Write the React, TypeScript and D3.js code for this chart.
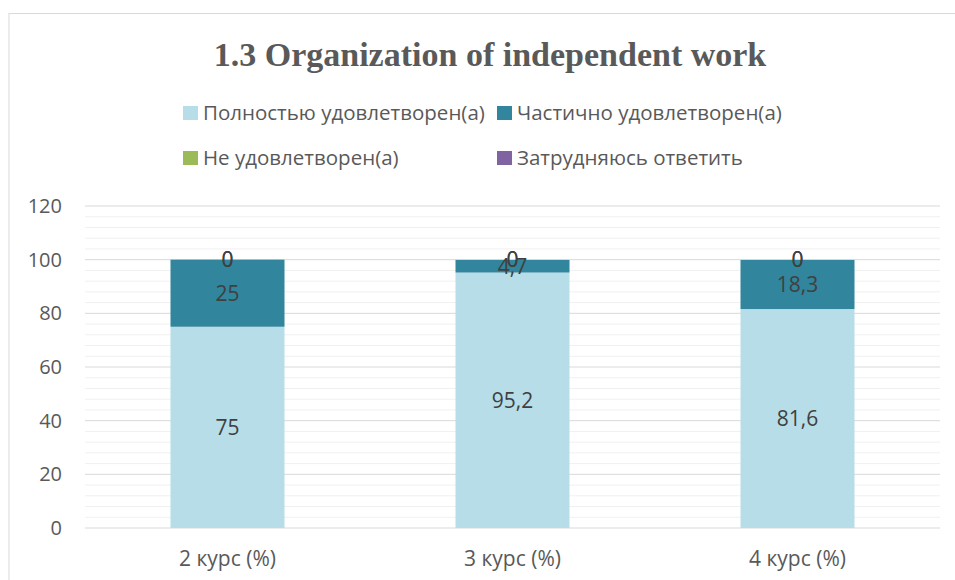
import { useMemo } from "react";
import * as d3 from "d3";

const WIDTH = 955;
const HEIGHT = 580;
const MARGIN = { top: 206, right: 15, bottom: 52, left: 85 };

const categories = ["2 курс (%)", "3 курс (%)", "4 курс (%)"];
const seriesNames = [
  "Полностью удовлетворен(а)",
  "Частично удовлетворен(а)",
  "Не удовлетворен(а)",
  "Затрудняюсь ответить",
];
const fully = [75, 95.2, 81.6];
const partly = [25, 4.7, 18.3];
const notSatisfied = [0, 0, 0];
const hardToSay = [0, 0, 0];
const yTicks = [0, 20, 40, 60, 80, 100, 120];

const seriesValues = [fully, partly, notSatisfied, hardToSay];
const COLORS = ["#B7DDE8", "#31859C", "#9BBB59", "#8064A2"];
const FONT = "'Open Sans', sans-serif";

const fmt = (v: number) => String(v).replace(".", ",");

const App = () => {
  const boundsWidth = WIDTH - MARGIN.left - MARGIN.right;
  const boundsHeight = HEIGHT - MARGIN.top - MARGIN.bottom;

  const rows = categories.map((c, i) => ({
    cat: c,
    s0: fully[i],
    s1: partly[i],
    s2: notSatisfied[i],
    s3: hardToSay[i],
  }));

  const stacked = useMemo(
    () => d3.stack<any>().keys(["s0", "s1", "s2", "s3"])(rows),
    []
  );

  const xScale = d3
    .scaleBand()
    .domain(categories)
    .range([0, boundsWidth])
    .paddingInner(0.6)
    .paddingOuter(0.3);

  const yScale = d3.scaleLinear().domain([0, 120]).range([boundsHeight, 0]);
  const minorTicks = d3.range(0, 121, 4).filter((t) => t % 20 !== 0);

  return (
    <svg
      width={WIDTH}
      height={HEIGHT}
      style={{ position: "absolute", left: 0, top: 0, background: "#fff" }}
    >
      <rect x={9} y={13.5} width={WIDTH} height={HEIGHT} fill="#fff" stroke="#d9d9d9" />
      <text
        x={490}
        y={66}
        textAnchor="middle"
        fontFamily="'Liberation Serif', serif"
        fontWeight="bold"
        fontSize={34}
        fill="#595959"
      >
        1.3 Organization of independent work
      </text>

      {seriesNames.map((name, i) => {
        const lx = i % 2 === 0 ? 183 : 497;
        const ly = i < 2 ? 113 : 158;
        return (
          <g key={name}>
            <rect x={lx} y={ly - 7} width={15} height={14} fill={COLORS[i]} />
            <text
              x={lx + 20}
              y={ly}
              dy="0.35em"
              fontFamily={FONT}
              fontSize={20.5}
              fill="#595959"
            >
              {name}
            </text>
          </g>
        );
      })}

      <g transform={`translate(${MARGIN.left},${MARGIN.top})`}>
        {minorTicks.map((t) => (
          <line
            key={"m" + t}
            x1={0}
            x2={boundsWidth}
            y1={yScale(t)}
            y2={yScale(t)}
            stroke="#f0f0f0"
            strokeWidth={1}
          />
        ))}
        {yTicks.map((t) => (
          <g key={t}>
            <line
              x1={0}
              x2={boundsWidth}
              y1={yScale(t)}
              y2={yScale(t)}
              stroke="#d9d9d9"
              strokeWidth={1}
            />
            <text
              x={-23}
              y={yScale(t)}
              dy="0.35em"
              textAnchor="end"
              fontFamily={FONT}
              fontSize={20}
              fill="#595959"
            >
              {t}
            </text>
          </g>
        ))}

        {stacked.map((layer, li) =>
          layer.map((d, ci) => (
            <rect
              key={li + "-" + ci}
              x={xScale(categories[ci])}
              y={yScale(d[1])}
              width={xScale.bandwidth()}
              height={Math.max(0, yScale(d[0]) - yScale(d[1]))}
              fill={COLORS[li]}
            />
          ))
        )}

        {stacked.map((layer, li) =>
          layer.map((d, ci) => (
            <text
              key={"l" + li + "-" + ci}
              x={(xScale(categories[ci]) ?? 0) + xScale.bandwidth() / 2}
              y={yScale((d[0] + d[1]) / 2)}
              dy="0.35em"
              textAnchor="middle"
              fontFamily={FONT}
              fontSize={21}
              fill="#404040"
            >
              {fmt(seriesValues[li][ci])}
            </text>
          ))
        )}

        {categories.map((c) => (
          <text
            key={c}
            x={(xScale(c) ?? 0) + xScale.bandwidth() / 2}
            y={boundsHeight + 31}
            dy="0.35em"
            textAnchor="middle"
            fontFamily={FONT}
            fontSize={21}
            fill="#595959"
          >
            {c}
          </text>
        ))}
      </g>
    </svg>
  );
};

export default App;
